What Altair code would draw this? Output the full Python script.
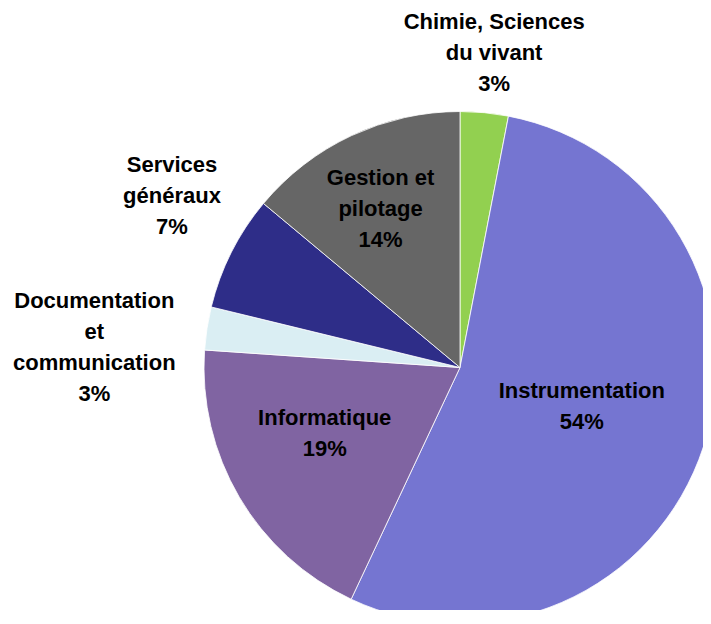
import altair as alt
import pandas as pd

categories = ["Chimie, Sciences du vivant", "Instrumentation", "Informatique",
              "Documentation et communication", "Services généraux", "Gestion et pilotage"]
label_lines = [["Chimie, Sciences", "du vivant"], ["Instrumentation"], ["Informatique"],
               ["Documentation", "et", "communication"], ["Services", "généraux"],
               ["Gestion et", "pilotage"]]
values = [3.03, 53.96, 19.10, 2.71, 7.27, 13.93]
colors = ["#92D050", "#7575D1", "#8064A2", "#DAEEF3", "#2E2D88", "#666666"]

df = pd.DataFrame({
    "cat": categories,
    "v": values,
    "idx": list(range(len(categories))),
    "label": [lines + [f"{round(v):.0f}%"] for lines, v in zip(label_lines, values)],
})

CX, CY, R = 452, 359.5, 256
FONT = "Liberation Sans, Arial, sans-serif"
LH = 31

base = alt.Chart(df)

theta = alt.Theta("v:Q", stack=True)
order = alt.Order("idx:Q")

arcs = base.mark_arc(radius=R, stroke="white", strokeWidth=0.8).encode(
    theta=theta,
    order=order,
    x=alt.value(CX),
    y=alt.value(CY),
    color=alt.Color("cat:N", scale=alt.Scale(domain=categories, range=colors), legend=None),
)

# label placement: (radius, dx, dy) per category (dy for the block centre)
placement = {
    "Chimie, Sciences du vivant": (317, 4, 1),
    "Instrumentation": (127, 1, 0),
    "Informatique": (150, -6, -10),
    "Documentation et communication": (366, -4, 36),
    "Services généraux": (336, 12, -20),
    "Gestion et pilotage": (178, -4, 3),
}

layers = [arcs]
for cat, lines in zip(categories, label_lines):
    r, dx, dy = placement[cat]
    n = len(lines) + 1
    layers.append(
        base.mark_text(font=FONT, fontSize=22, fontWeight="bold", color="black",
                       lineHeight=LH, align="center", baseline="middle",
                       dx=dx, dy=dy - (n - 1) * LH / 2).encode(
            theta=theta,
            order=order,
            x=alt.value(CX),
            y=alt.value(CY),
            radius=alt.value(r),
            text=alt.condition(alt.datum.cat == cat, "label", alt.value("")),
        )
    )

chart = alt.layer(*layers).properties(
    width=695, height=602, padding=0, autosize=alt.AutoSizeParams(type="none")
).configure_view(stroke=None)

chart.save("out.html", embed_options={"renderer": "svg", "actions": False})
